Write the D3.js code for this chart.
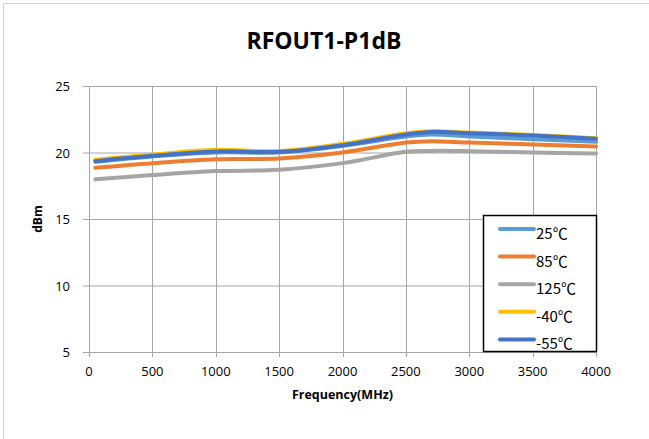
<!DOCTYPE html>
<html>
<head>
<meta charset="utf-8">
<script src="https://cdn.jsdelivr.net/npm/d3@7"></script>
<style>
  body { margin: 0; background: #fff; }
  svg { display: block; font-family: 'Open Sans', sans-serif; }
</style>
</head>
<body>
<svg width="649" height="439"></svg>
<script>
const freqs = [50, 500, 1000, 1500, 2000, 2500, 2700, 3000, 3500, 4000]
const seriesNames = ['25℃', '85℃', '125℃', '-40℃', '-55℃']
const seriesColors = ['#5B9BD5', '#ED7D31', '#A5A5A5', '#FFC000', '#4472C4']
const t25 = [19.3, 19.7, 20.0, 20.0, 20.5, 21.2, 21.35, 21.2, 21.0, 20.8]
const t85 = [18.85, 19.2, 19.5, 19.55, 20.0, 20.75, 20.85, 20.75, 20.6, 20.45]
const t125 = [17.98, 18.3, 18.6, 18.7, 19.2, 20.05, 20.12, 20.1, 20.0, 19.92]
const tm40 = [19.45, 19.85, 20.2, 20.1, 20.65, 21.45, 21.6, 21.5, 21.32, 21.08]
const tm55 = [19.35, 19.75, 20.08, 20.05, 20.55, 21.35, 21.55, 21.45, 21.28, 21.04]
const xTicks = [0, 500, 1000, 1500, 2000, 2500, 3000, 3500, 4000]
const yTicks = [5, 10, 15, 20, 25]

const allSeries = [t25, t85, t125, tm40, tm55]

let svg = d3.select('svg')
let plotL = 89, plotR = 596, plotT = 86, plotB = 352

let x = d3.scaleLinear().domain([0, 4000]).range([plotL, plotR])
let y = d3.scaleLinear().domain([5, 25]).range([plotB, plotT])

// chart border (only top/left visible in the crop)
svg.append('rect')
  .attr('x', 3.5).attr('y', 3.5)
  .attr('width', 800).attr('height', 600)
  .attr('fill', 'none')
  .attr('stroke', '#d0d0d0')

svg.append('text')
  .text('RFOUT1-P1dB')
  .attr('x', 324).attr('y', 49)
  .attr('text-anchor', 'middle')
  .attr('font-size', 23)
  .attr('font-weight', 'bold')
  .attr('fill', '#000')

// gridlines
svg.append('g')
  .selectAll('line')
  .data(yTicks)
  .enter()
  .append('line')
  .attr('x1', plotL - 6).attr('x2', plotR)
  .attr('y1', d => y(d) + 0.5).attr('y2', d => y(d) + 0.5)
  .attr('stroke', '#a6a6a6')

svg.append('g')
  .selectAll('line')
  .data(xTicks)
  .enter()
  .append('line')
  .attr('x1', d => Math.round(x(d)) + 0.5).attr('x2', d => Math.round(x(d)) + 0.5)
  .attr('y1', plotT).attr('y2', plotB + 5)
  .attr('stroke', '#a6a6a6')

// tick labels
svg.append('g')
  .selectAll('text')
  .data(yTicks)
  .enter()
  .append('text')
  .text(d => d)
  .attr('x', 70)
  .attr('y', d => y(d) + 5)
  .attr('text-anchor', 'end')
  .attr('font-size', 13)
  .attr('fill', '#000')

svg.append('g')
  .selectAll('text')
  .data(xTicks)
  .enter()
  .append('text')
  .text(d => d)
  .attr('x', d => x(d))
  .attr('y', 376)
  .attr('text-anchor', 'middle')
  .attr('font-size', 13)
  .attr('fill', '#000')

svg.append('text')
  .text('Frequency(MHz)')
  .attr('x', (plotL + plotR) / 2)
  .attr('y', 399)
  .attr('text-anchor', 'middle')
  .attr('font-size', 12.5)
  .attr('font-weight', 'bold')

svg.append('text')
  .text('dBm')
  .attr('transform', `translate(42, ${(plotT + plotB) / 2}) rotate(-90)`)
  .attr('text-anchor', 'middle')
  .attr('font-size', 12)
  .attr('font-weight', 'bold')

// series
let line = d3.line()
  .x(d => x(d[0]))
  .y(d => y(d[1]))
  .curve(d3.curveCatmullRom.alpha(0.5))

svg.append('g')
  .selectAll('path')
  .data(allSeries)
  .enter()
  .append('path')
  .attr('d', vals => line(freqs.map((f, i) => [f, vals[i]])))
  .attr('fill', 'none')
  .attr('stroke', (d, i) => seriesColors[i])
  .attr('stroke-width', 4)
  .attr('stroke-linecap', 'round')

// legend
let lg = svg.append('g')
lg.append('rect')
  .attr('x', 483.5).attr('y', 215.5)
  .attr('width', 113).attr('height', 136)
  .attr('fill', '#fff')
  .attr('stroke', '#000')
  .attr('stroke-width', 1.5)

let items = lg.selectAll('g.item')
  .data(seriesNames)
  .enter()
  .append('g')
  .attr('class', 'item')
  .attr('transform', (d, i) => `translate(0, ${229 + i * 27.6})`)

items.append('line')
  .attr('x1', 500).attr('x2', 534)
  .attr('y1', 0).attr('y2', 0)
  .attr('stroke', (d, i) => seriesColors[i])
  .attr('stroke-width', 4)
  .attr('stroke-linecap', 'round')

items.append('text')
  .text(d => d)
  .attr('x', 536)
  .attr('y', 10)
  .attr('font-size', 15)
  .attr('font-family', "'Noto Sans CJK SC', sans-serif")
  .attr('fill', '#000')
</script>
</body>
</html>
